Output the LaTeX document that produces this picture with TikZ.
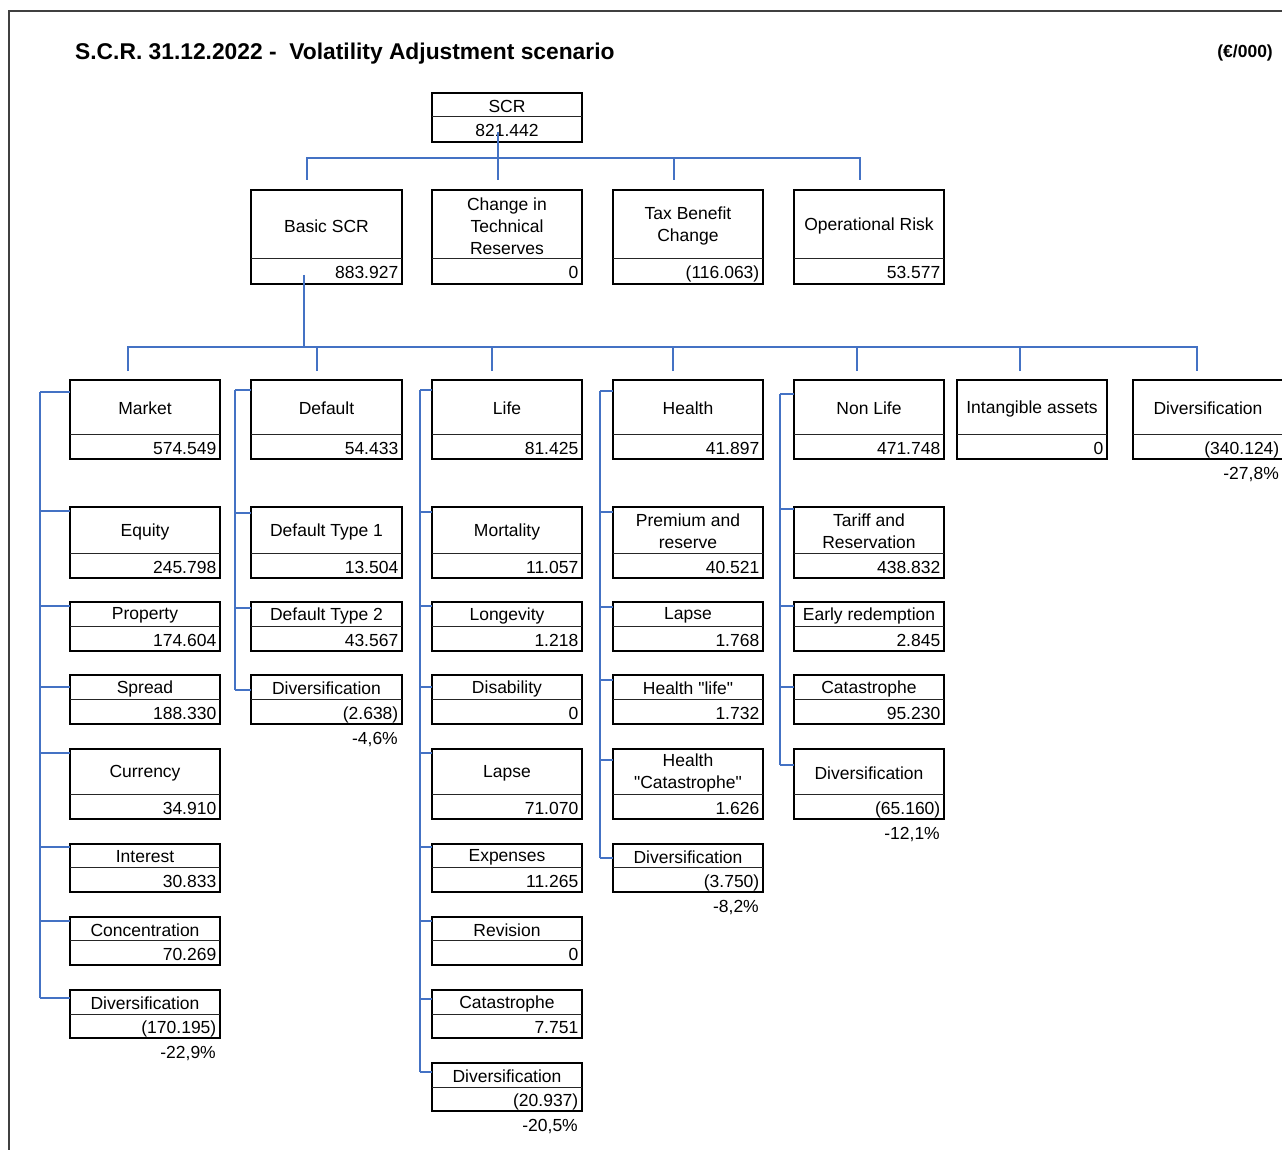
\documentclass[tikz,border=0pt]{standalone}
\usepackage{fontspec}
\setmainfont{Liberation Sans}[Ligatures=TeXOff]
\usetikzlibrary{calc}
\definecolor{connblue}{RGB}{68,114,196}
\newcommand\boxfont{\fontsize{17.5}{22}\selectfont}

% name, left, top, width, height, divider offset, label, value
\newcommand\scrbox[8]{%
  \node[boxst, minimum width=#4pt, minimum height=#5pt, anchor=north west] (#1) at (#2,#3) {};
  \draw[divline] ($(#1.north west)+(0,#6)$) -- ($(#1.north east)+(0,#6)$);
  \node[lbl] at ($(#1.north)+(0,{#6/2+1.5})$) {#7};
  \node[val] at ($(#1.north east)+(-3.5,{(#5+#6)/2+7.5})$) {#8};
}
% spine, box, offset below box top, coordinate name
\newcommand\branch[4]{%
  \path ($(#2.north west)+(0,#3)$) coordinate (#4end);
  \path (#4end -| #1) coordinate (#4);
  \draw[conn] (#4) -- (#4end);
}
\newcommand\share[2]{\node[pct] at ($(#1.south east)+(-4,20)$) {#2};}

\begin{document}
\begin{tikzpicture}[x=1pt,y=-1pt,
  boxst/.style={draw=black, line width=2.6pt, fill=white, inner sep=0pt, outer sep=0pt},
  divline/.style={line width=1pt, draw=black!85},
  lbl/.style={font=\boxfont, align=center, inner sep=0pt, anchor=center},
  val/.style={font=\boxfont, anchor=base east, inner sep=0pt},
  pct/.style={font=\boxfont, anchor=base east, inner sep=0pt},
  conn/.style={draw=connblue, line width=1.7pt},
  frameline/.style={draw=black!75, line width=1.2pt}]
\useasboundingbox (0,0) rectangle (1282,1150);

% outer frame
\draw[frameline] (8,11) -- (1282,11);
\draw[frameline] (9,11) -- (9,1150);

% heading
\node[anchor=base west, inner sep=0pt, font=\fontsize{22.8}{26}\selectfont\bfseries] (title) at (75,59.3)
  {S.C.R. 31.12.2022 -\ \ Volatility Adjustment scenario};
\node[anchor=base east, inner sep=0pt, font=\fontsize{17.5}{20}\selectfont\bfseries] (unit) at (1273,57.3) {(€/000)};

% top level: total SCR with its value centred
\node[boxst, minimum width=150pt, minimum height=49pt, anchor=north west] (scr) at (432,93) {};
\draw[divline] ($(scr.north west)+(0,24)$) -- ($(scr.north east)+(0,24)$);
\node[lbl] at ($(scr.north)+(0,13.5)$) {SCR};
\node[font=\boxfont, anchor=base, inner sep=0pt] at ($(scr.north)+(0,44)$) {821.442};

\scrbox{bscr}{251}{190}{151}{94}{69}{Basic SCR}{883.927}
\scrbox{ctr}{432}{190}{150}{94}{69}{Change in\\Technical\\Reserves}{0}
\scrbox{tax}{613}{190}{150}{94}{69}{Tax Benefit\\Change}{(116.063)}
\scrbox{opr}{794}{190}{150}{94}{69}{Operational Risk}{53.577}

% risk modules
\scrbox{mkt}{70}{380}{150}{79}{54}{Market}{574.549}
\scrbox{def}{251}{380}{151}{79}{54}{Default}{54.433}
\scrbox{life}{432}{380}{150}{79}{54}{Life}{81.425}
\scrbox{hea}{613}{380}{150}{79}{54}{Health}{41.897}
\scrbox{nl}{794}{380}{150}{79}{54}{Non Life}{471.748}
\scrbox{ita}{957}{380}{150}{79}{54}{Intangible assets}{0}
\scrbox{dvt}{1133}{380}{150}{79}{54}{Diversification}{(340.124)}
\share{dvt}{-27,8\%}

% market sub-modules
\scrbox{eq}{70}{507}{150}{71}{46}{Equity}{245.798}
\scrbox{prop}{70}{602}{150}{49}{24}{Property}{174.604}
\scrbox{spr}{70}{675}{150}{49}{24}{Spread}{188.330}
\scrbox{cur}{70}{749}{150}{70}{45}{Currency}{34.910}
\scrbox{int}{70}{844}{150}{48}{23}{Interest}{30.833}
\scrbox{conc}{70}{917}{150}{48}{23}{Concentration}{70.269}
\scrbox{mdiv}{70}{990}{150}{48}{24}{Diversification}{(170.195)}
\share{mdiv}{-22,9\%}

% default sub-modules
\scrbox{dta}{251}{507}{151}{71}{46}{Default Type 1}{13.504}
\scrbox{dtb}{251}{602}{151}{49}{24}{Default Type 2}{43.567}
\scrbox{ddiv}{251}{675}{151}{49}{24}{Diversification}{(2.638)}
\share{ddiv}{-4,6\%}

% life sub-modules
\scrbox{mort}{432}{507}{150}{71}{46}{Mortality}{11.057}
\scrbox{long}{432}{602}{150}{49}{24}{Longevity}{1.218}
\scrbox{dis}{432}{675}{150}{49}{24}{Disability}{0}
\scrbox{llap}{432}{749}{150}{70}{45}{Lapse}{71.070}
\scrbox{exps}{432}{844}{150}{48}{23}{Expenses}{11.265}
\scrbox{rev}{432}{917}{150}{48}{23}{Revision}{0}
\scrbox{lcat}{432}{990}{150}{48}{24}{Catastrophe}{7.751}
\scrbox{ldiv}{432}{1063}{150}{48}{24}{Diversification}{(20.937)}
\share{ldiv}{-20,5\%}

% health sub-modules
\scrbox{prem}{613}{507}{150}{71}{46}{Premium and\\reserve}{40.521}
\scrbox{hlap}{613}{602}{150}{49}{24}{Lapse}{1.768}
\scrbox{hlife}{613}{675}{150}{49}{24}{Health "life"}{1.732}
\scrbox{hcat}{613}{749}{150}{70}{45}{Health\\"Catastrophe"}{1.626}
\scrbox{hdiv}{613}{844}{150}{48}{23}{Diversification}{(3.750)}
\share{hdiv}{-8,2\%}

% non-life sub-modules
\scrbox{tar}{794}{507}{150}{71}{46}{Tariff and\\Reservation}{438.832}
\scrbox{early}{794}{602}{150}{49}{24}{Early redemption}{2.845}
\scrbox{nlcat}{794}{675}{150}{49}{24}{Catastrophe}{95.230}
\scrbox{nldiv}{794}{749}{150}{70}{45}{Diversification}{(65.160)}
\share{nldiv}{-12,1\%}

% SCR -> first level
\coordinate (scrsrc) at ($(scr.north)+(-9,39)$);
\coordinate (bscrin) at ($(bscr.north)+(-19.5,-10)$);
\coordinate (ctrin) at ($(ctr.north)+(-9,-10)$);
\coordinate (taxin) at ($(tax.north)+(-14,-10)$);
\coordinate (oprin) at ($(opr.north)+(-9,-10)$);
\draw[conn] (scrsrc) -- (ctrin);
\draw[conn] (bscrin) -- ++(0,-22) coordinate (busa) -| (oprin);
\draw[conn] (taxin) -- (taxin |- busa);

% Basic SCR -> modules
\coordinate (bscrsrc) at ($(bscr.north)+(-22.5,85)$);
\coordinate (mktin) at ($(mkt.north)+(-17,-9)$);
\coordinate (defin) at ($(def.north)+(-9.5,-9)$);
\coordinate (lifein) at ($(life.north)+(-15,-9)$);
\coordinate (heain) at ($(hea.north)+(-15,-9)$);
\coordinate (nlin) at ($(nl.north)+(-12,-9)$);
\coordinate (itain) at ($(ita.north)+(-12,-9)$);
\coordinate (dvtin) at ($(dvt.north)+(-11,-9)$);
\draw[conn] (mktin) -- ++(0,-24) coordinate (busb) -| (dvtin);
\draw[conn] (bscrsrc) -- (bscrsrc |- busb);
\foreach \c in {defin,lifein,heain,nlin,itain} \draw[conn] (\c) -- (\c |- busb);

% module spines
\coordinate (mktsp) at (40,0);
\coordinate (defsp) at (235,0);
\coordinate (lifesp) at (420,0);
\coordinate (heasp) at (600,0);
\coordinate (nlsp) at (780,0);

\branch{mktsp}{mkt}{12}{ma}
\branch{mktsp}{eq}{4}{mb}
\branch{mktsp}{prop}{4}{mc}
\branch{mktsp}{spr}{12}{md}
\branch{mktsp}{cur}{4}{me}
\branch{mktsp}{int}{3}{mf}
\branch{mktsp}{conc}{4}{mg}
\branch{mktsp}{mdiv}{8}{mh}
\draw[conn] (ma) -- (mh);

\branch{defsp}{def}{10}{da}
\branch{defsp}{dta}{6}{db}
\branch{defsp}{dtb}{6}{dc}
\branch{defsp}{ddiv}{15}{dd}
\draw[conn] (da) -- (dd);

\branch{lifesp}{life}{10}{la}
\branch{lifesp}{mort}{5}{lb}
\branch{lifesp}{long}{4}{lc}
\branch{lifesp}{dis}{12}{ld}
\branch{lifesp}{llap}{4}{le}
\branch{lifesp}{exps}{3}{lf}
\branch{lifesp}{rev}{4}{lg}
\branch{lifesp}{lcat}{9}{lh}
\branch{lifesp}{ldiv}{9}{li}
\draw[conn] (la) -- (li);

\branch{heasp}{hea}{11}{ha}
\branch{heasp}{prem}{5}{hb}
\branch{heasp}{hlap}{5}{hc}
\branch{heasp}{hlife}{5}{hd}
\branch{heasp}{hcat}{11}{he}
\branch{heasp}{hdiv}{14}{hf}
\draw[conn] (ha) -- (hf);

\branch{nlsp}{nl}{14}{na}
\branch{nlsp}{tar}{2}{nb}
\branch{nlsp}{early}{4}{nc}
\branch{nlsp}{nlcat}{12}{nd}
\branch{nlsp}{nldiv}{16}{ne}
\draw[conn] (na) -- (ne);
\end{tikzpicture}
\end{document}
